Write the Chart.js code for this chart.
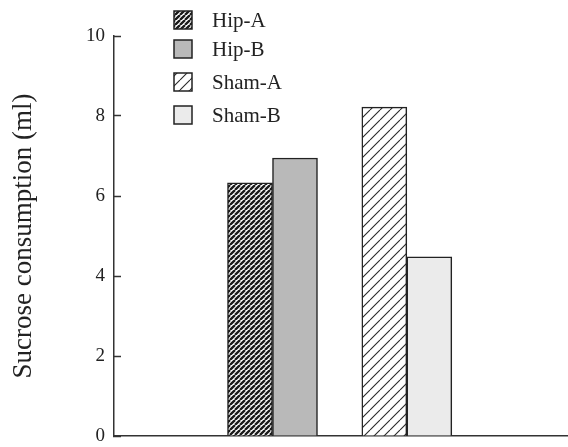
<!DOCTYPE html>
<html><head><meta charset="utf-8">
<script src="https://cdn.jsdelivr.net/npm/chart.js@4.4.1/dist/chart.umd.min.js"></script>
<style>html,body{margin:0;padding:0;background:#fff}</style>
</head><body>
<canvas id="c" width="568" height="447"></canvas>
<script>
// ---- data ----
const categories = ['Hip', 'Sham'];
const seriesLabels = ['Hip-A', 'Hip-B', 'Sham-A', 'Sham-B'];
const hipA  = [6.33, null];
const hipB  = [6.95, null];
const shamA = [null, 8.22];
const shamB = [null, 4.48];
const yTicks = [0, 2, 4, 6, 8, 10];

// ---- styles ----
function hatch(s, lw, color, bg) {
  const c = document.createElement('canvas');
  c.width = s; c.height = s;
  const g = c.getContext('2d');
  g.fillStyle = bg; g.fillRect(0, 0, s, s);
  g.strokeStyle = color; g.lineWidth = lw;
  g.beginPath();
  for (let k = -1; k <= 1; k++) {
    g.moveTo(k * s, s);
    g.lineTo(k * s + s, 0);
  }
  g.stroke();
  return g.createPattern(c, 'repeat');
}
const ctx = document.getElementById('c').getContext('2d');
const fills = [
  hatch(5, 2.3, '#1a1a1a', '#ffffff'),
  '#b9b9b9',
  hatch(10, 1.1, '#2a2a2a', '#ffffff'),
  '#ebebeb'
];
const serif = "'Liberation Serif', 'Times New Roman', serif";

const series = [hipA, hipB, shamA, shamB];
const datasets = series.map((vals, i) => ({
  label: seriesLabels[i],
  data: vals.map((v, j) => ({ x: j + 1, y: v })),
  backgroundColor: fills[i],
  borderColor: '#222',
  borderWidth: 1.5,
  barThickness: 45,
  skipNull: true
}));

const legendPlugin = {
  id: 'customLegend',
  afterDraw(chart, args, opts) {
    const c = chart.ctx;
    c.save();
    chart.data.datasets.forEach((ds, i) => {
      const cy = opts.rows[i];
      const x = opts.x, b = opts.box;
      c.fillStyle = ds.backgroundColor;
      c.fillRect(x, cy - b / 2, b, b);
      c.strokeStyle = '#222';
      c.lineWidth = 1.5;
      c.strokeRect(x, cy - b / 2, b, b);
      c.fillStyle = '#222';
      c.font = opts.font;
      c.textBaseline = 'middle';
      c.textAlign = 'left';
      c.fillText(ds.label, opts.textX, cy + 1);
    });
    c.restore();
  }
};

new Chart(ctx, {
  type: 'bar',
  data: { datasets },
  plugins: [legendPlugin],
  options: {
    responsive: false,
    animation: false,
    layout: { padding: { left: 0, right: 0, top: 36, bottom: 11 } },
    plugins: {
      legend: { display: false },
      tooltip: { enabled: false },
      customLegend: { x: 174, box: 18, textX: 212, rows: [20, 49, 82, 115], font: '21px ' + serif }
    },
    scales: {
      x: {
        type: 'linear',
        offset: false,
        min: -0.18,
        max: 3.2,
        afterFit: (axis) => { axis.height = 0; axis.paddingLeft = 0; axis.paddingRight = 0; },
        ticks: { display: false },
        grid: { display: true, offset: false, drawOnChartArea: false, drawTicks: false },
        border: { display: true, color: '#333', width: 1.5 }
      },
      y: {
        min: 0,
        max: 10,
        afterBuildTicks: (axis) => { axis.ticks = yTicks.map(v => ({ value: v })); },
        afterFit: (axis) => { axis.width = 114; axis.paddingTop = 0; axis.paddingBottom = 0; },
        ticks: { font: { family: serif, size: 19 }, color: '#222', padding: 16 },
        grid: { drawOnChartArea: false, tickLength: -7, tickColor: '#333', tickWidth: 1.5 },
        border: { display: true, color: '#333', width: 1.5 },
        title: {
          display: true,
          text: 'Sucrose consumption (ml)',
          font: { family: serif, size: 27 },
          color: '#222',
          padding: { top: 8, bottom: 0 }
        }
      }
    }
  }
});
</script>
</body></html>
